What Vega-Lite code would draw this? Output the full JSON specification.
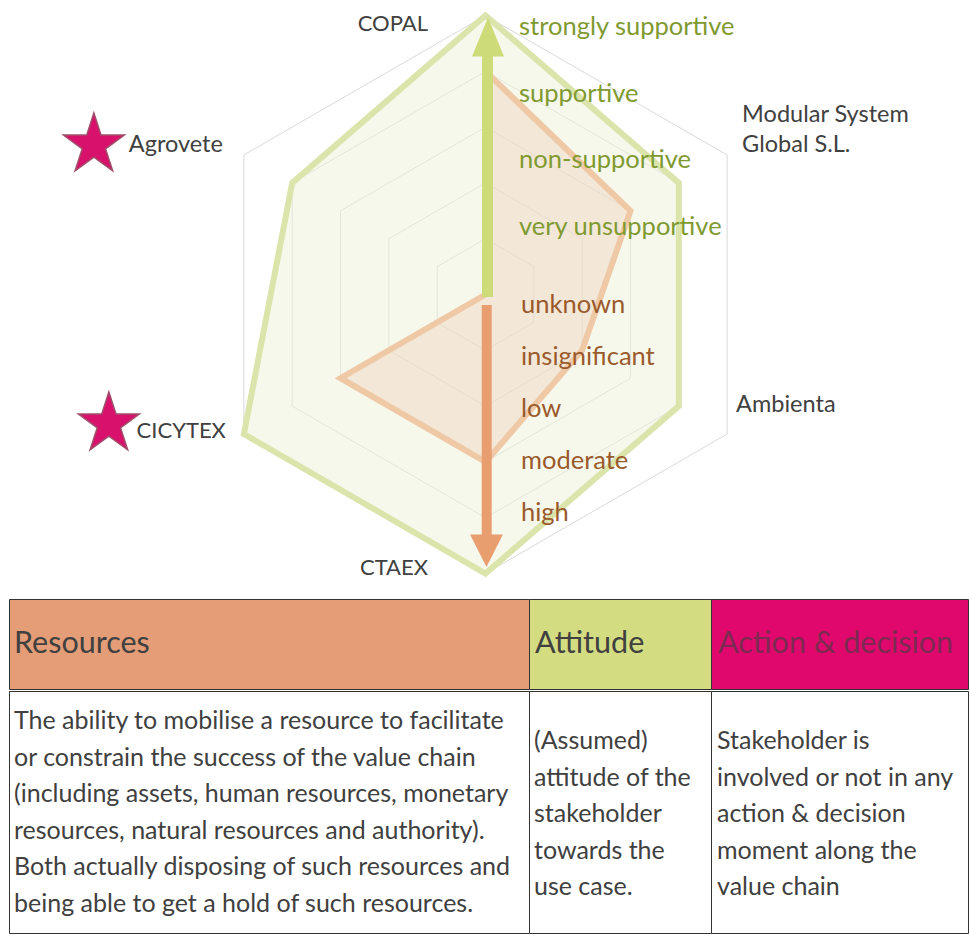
{
  "$schema": "https://vega.github.io/schema/vega-lite/v6.json",
  "padding": {"left": 8, "top": 0, "right": 0, "bottom": 0},
  "spacing": 0,
  "config": {"view": {"stroke": null}, "font": "Lato"},
  "datasets": {
    "stakeholders": [
      {"name": "COPAL", "k": 0, "attitude": 5, "resources": 4, "action": false},
      {"name": "Modular System\nGlobal S.L.", "k": 1, "attitude": 4, "resources": 3, "action": false},
      {"name": "Ambienta", "k": 2, "attitude": 4, "resources": 2, "action": false},
      {"name": "CTAEX", "k": 3, "attitude": 5, "resources": 3, "action": false},
      {"name": "CICYTEX", "k": 4, "attitude": 5, "resources": 3, "action": true},
      {"name": "Agrovete", "k": 5, "attitude": 4, "resources": 0, "action": true}
    ],
    "grid": [
      {"k": 0, "rings": [1, 2, 3, 4, 5]},
      {"k": 1, "rings": [1, 2, 3, 4, 5]},
      {"k": 2, "rings": [1, 2, 3, 4, 5]},
      {"k": 3, "rings": [1, 2, 3, 4, 5]},
      {"k": 4, "rings": [1, 2, 3, 4, 5]},
      {"k": 5, "rings": [1, 2, 3, 4, 5]}
    ],
    "arrows": [
      {"scale": "Attitude", "from": 0, "to": 5},
      {"scale": "Resources", "from": 0, "to": -5}
    ],
    "attitudeScale": [
      {"label": "very unsupportive", "level": 1},
      {"label": "non-supportive", "level": 2},
      {"label": "supportive", "level": 3},
      {"label": "strongly supportive", "level": 4}
    ],
    "resourceScale": [
      {"label": "unknown", "level": 1},
      {"label": "insignificant", "level": 2},
      {"label": "low", "level": 3},
      {"label": "moderate", "level": 4},
      {"label": "high", "level": 5}
    ],
    "table": [
      {"col": "Resources", "head": "Resources", "body": "The ability to mobilise a resource to facilitate\nor constrain the success of the value chain\n(including assets, human resources, monetary\nresources, natural resources and authority).\nBoth actually disposing of such resources and\nbeing able to get a hold of such resources."},
      {"col": "Attitude", "head": "Attitude", "body": "(Assumed)\nattitude of the\nstakeholder\ntowards the\nuse case."},
      {"col": "Action", "head": "Action & decision", "body": "Stakeholder is\ninvolved or not in any\naction & decision\nmoment along the\nvalue chain"}
    ]
  },
  "vconcat": [
    {
      "width": 961,
      "height": 598,
      "resolve": {"scale": {"y": "independent"}},
      "layer": [
        {
          "layer": [
            {
              "data": {"name": "grid"},
              "transform": [
                {"flatten": ["rings"], "as": ["ring"]},
                {"calculate": "datum.ring*sin(datum.k*PI/3)", "as": "px"},
                {"calculate": "datum.ring*cos(datum.k*PI/3)", "as": "py"}
              ],
              "mark": {"type": "line", "interpolate": "linear-closed", "stroke": "#d9d9d9", "strokeWidth": 1},
              "encoding": {
                "x": {"field": "px", "type": "quantitative", "axis": null, "scale": {"domain": [-8.5394, 8.6828], "nice": false, "zero": false}},
                "y": {"field": "py", "type": "quantitative", "axis": null, "scale": {"domain": [-5.439, 5.278], "nice": false, "zero": false}},
                "detail": {"field": "ring", "type": "nominal"},
                "order": {"field": "k", "type": "quantitative"}
              }
            },
            {
              "data": {"name": "stakeholders"},
              "transform": [
                {"calculate": "datum.attitude*sin(datum.k*PI/3)", "as": "px"},
                {"calculate": "datum.attitude*cos(datum.k*PI/3)", "as": "py"}
              ],
              "mark": {"type": "line", "interpolate": "linear-closed", "stroke": "#dbe4ab", "strokeWidth": 6, "fill": "#eff1d9", "fillOpacity": 0.5},
              "encoding": {
                "x": {"field": "px", "type": "quantitative", "axis": null, "scale": {"domain": [-8.5394, 8.6828], "nice": false, "zero": false}},
                "y": {"field": "py", "type": "quantitative", "axis": null, "scale": {"domain": [-5.439, 5.278], "nice": false, "zero": false}},
                "order": {"field": "k", "type": "quantitative"}
              }
            },
            {
              "data": {"name": "stakeholders"},
              "transform": [
                {"calculate": "datum.resources*sin(datum.k*PI/3)", "as": "px"},
                {"calculate": "datum.resources*cos(datum.k*PI/3)", "as": "py"}
              ],
              "mark": {"type": "line", "interpolate": "linear-closed", "stroke": "#efc8a6", "strokeWidth": 6, "fill": "#ecccb3", "fillOpacity": 0.35},
              "encoding": {
                "x": {"field": "px", "type": "quantitative", "axis": null, "scale": {"domain": [-8.5394, 8.6828], "nice": false, "zero": false}},
                "y": {"field": "py", "type": "quantitative", "axis": null, "scale": {"domain": [-5.439, 5.278], "nice": false, "zero": false}},
                "order": {"field": "k", "type": "quantitative"}
              }
            },
            {
              "data": {"name": "arrows"},
              "transform": [{"filter": "datum.scale == 'Attitude'"}],
              "mark": {"type": "rule", "color": "#cddb78", "strokeWidth": 11, "xOffset": 2, "yOffset": 2.5, "y2Offset": 38},
              "encoding": {
                "x": {"datum": 0, "type": "quantitative", "axis": null, "scale": {"domain": [-8.5394, 8.6828], "nice": false, "zero": false}},
                "y": {"field": "from", "type": "quantitative", "axis": null, "scale": {"domain": [-5.439, 5.278], "nice": false, "zero": false}},
                "y2": {"field": "to"}
              }
            },
            {
              "data": {"name": "arrows"},
              "transform": [{"filter": "datum.scale == 'Attitude'"}],
              "mark": {"type": "point", "shape": "M0,0.1L0.8,2.05L-0.8,2.05Z", "size": 1600, "filled": true, "opacity": 1, "color": "#cddb78", "xOffset": 2.5},
              "encoding": {
                "x": {"datum": 0, "type": "quantitative", "axis": null, "scale": {"domain": [-8.5394, 8.6828], "nice": false, "zero": false}},
                "y": {"field": "to", "type": "quantitative", "axis": null, "scale": {"domain": [-5.439, 5.278], "nice": false, "zero": false}}
              }
            },
            {
              "data": {"name": "arrows"},
              "transform": [{"filter": "datum.scale == 'Resources'"}],
              "mark": {"type": "rule", "color": "#e89e6f", "strokeWidth": 10, "xOffset": 1.2, "yOffset": 10.5, "y2Offset": -36},
              "encoding": {
                "x": {"datum": 0, "type": "quantitative", "axis": null, "scale": {"domain": [-8.5394, 8.6828], "nice": false, "zero": false}},
                "y": {"field": "from", "type": "quantitative", "axis": null, "scale": {"domain": [-5.439, 5.278], "nice": false, "zero": false}},
                "y2": {"field": "to"}
              }
            },
            {
              "data": {"name": "arrows"},
              "transform": [{"filter": "datum.scale == 'Resources'"}],
              "mark": {"type": "point", "shape": "M0,-0.33L0.82,-1.95L-0.82,-1.95Z", "size": 1600, "filled": true, "opacity": 1, "color": "#e89e6f", "xOffset": 1},
              "encoding": {
                "x": {"datum": 0, "type": "quantitative", "axis": null, "scale": {"domain": [-8.5394, 8.6828], "nice": false, "zero": false}},
                "y": {"field": "to", "type": "quantitative", "axis": null, "scale": {"domain": [-5.439, 5.278], "nice": false, "zero": false}}
              }
            },
            {
              "data": {"name": "stakeholders"},
              "transform": [
                {"filter": "datum.k == 0"},
                {"calculate": "5*sin(datum.k*PI/3)", "as": "px"},
                {"calculate": "5*cos(datum.k*PI/3)", "as": "py"}
              ],
              "mark": {"type": "text", "align": "right", "baseline": "middle", "dx": -57.5, "dy": 8.5, "fontSize": 22, "color": "#404040", "font": "Lato"},
              "encoding": {
                "x": {"field": "px", "type": "quantitative", "axis": null, "scale": {"domain": [-8.5394, 8.6828], "nice": false, "zero": false}},
                "y": {"field": "py", "type": "quantitative", "axis": null, "scale": {"domain": [-5.439, 5.278], "nice": false, "zero": false}},
                "text": {"field": "name"}
              }
            },
            {
              "data": {"name": "stakeholders"},
              "transform": [
                {"filter": "datum.k == 1"},
                {"calculate": "5*sin(datum.k*PI/3)", "as": "px"},
                {"calculate": "5*cos(datum.k*PI/3)", "as": "py"}
              ],
              "mark": {"type": "text", "align": "left", "baseline": "middle", "dx": 15, "dy": -40, "fontSize": 23.5, "color": "#404040", "font": "Lato", "lineBreak": "\n", "lineHeight": 30},
              "encoding": {
                "x": {"field": "px", "type": "quantitative", "axis": null, "scale": {"domain": [-8.5394, 8.6828], "nice": false, "zero": false}},
                "y": {"field": "py", "type": "quantitative", "axis": null, "scale": {"domain": [-5.439, 5.278], "nice": false, "zero": false}},
                "text": {"field": "name"}
              }
            },
            {
              "data": {"name": "stakeholders"},
              "transform": [
                {"filter": "datum.k == 2"},
                {"calculate": "5*sin(datum.k*PI/3)", "as": "px"},
                {"calculate": "5*cos(datum.k*PI/3)", "as": "py"}
              ],
              "mark": {"type": "text", "align": "left", "baseline": "middle", "dx": 9, "dy": -29, "fontSize": 23.5, "color": "#404040", "font": "Lato"},
              "encoding": {
                "x": {"field": "px", "type": "quantitative", "axis": null, "scale": {"domain": [-8.5394, 8.6828], "nice": false, "zero": false}},
                "y": {"field": "py", "type": "quantitative", "axis": null, "scale": {"domain": [-5.439, 5.278], "nice": false, "zero": false}},
                "text": {"field": "name"}
              }
            },
            {
              "data": {"name": "stakeholders"},
              "transform": [
                {"filter": "datum.k == 3"},
                {"calculate": "5*sin(datum.k*PI/3)", "as": "px"},
                {"calculate": "5*cos(datum.k*PI/3)", "as": "py"}
              ],
              "mark": {"type": "text", "align": "right", "baseline": "middle", "dx": -57.5, "dy": -5.5, "fontSize": 22, "color": "#404040", "font": "Lato"},
              "encoding": {
                "x": {"field": "px", "type": "quantitative", "axis": null, "scale": {"domain": [-8.5394, 8.6828], "nice": false, "zero": false}},
                "y": {"field": "py", "type": "quantitative", "axis": null, "scale": {"domain": [-5.439, 5.278], "nice": false, "zero": false}},
                "text": {"field": "name"}
              }
            },
            {
              "data": {"name": "stakeholders"},
              "transform": [
                {"filter": "datum.k == 4"},
                {"calculate": "5*sin(datum.k*PI/3)", "as": "px"},
                {"calculate": "5*cos(datum.k*PI/3)", "as": "py"}
              ],
              "mark": {"type": "text", "align": "right", "baseline": "middle", "dx": -18, "dy": -3, "fontSize": 22, "color": "#404040", "font": "Lato"},
              "encoding": {
                "x": {"field": "px", "type": "quantitative", "axis": null, "scale": {"domain": [-8.5394, 8.6828], "nice": false, "zero": false}},
                "y": {"field": "py", "type": "quantitative", "axis": null, "scale": {"domain": [-5.439, 5.278], "nice": false, "zero": false}},
                "text": {"field": "name"}
              }
            },
            {
              "data": {"name": "stakeholders"},
              "transform": [
                {"filter": "datum.k == 5"},
                {"calculate": "5*sin(datum.k*PI/3)", "as": "px"},
                {"calculate": "5*cos(datum.k*PI/3)", "as": "py"}
              ],
              "mark": {"type": "text", "align": "right", "baseline": "middle", "dx": -21, "dy": -10, "fontSize": 23.5, "color": "#404040", "font": "Lato"},
              "encoding": {
                "x": {"field": "px", "type": "quantitative", "axis": null, "scale": {"domain": [-8.5394, 8.6828], "nice": false, "zero": false}},
                "y": {"field": "py", "type": "quantitative", "axis": null, "scale": {"domain": [-5.439, 5.278], "nice": false, "zero": false}},
                "text": {"field": "name"}
              }
            },
            {
              "data": {"name": "stakeholders"},
              "transform": [
                {"filter": "datum.action && datum.k == 5"},
                {"calculate": "5*sin(datum.k*PI/3)", "as": "px"},
                {"calculate": "5*cos(datum.k*PI/3)", "as": "py"}
              ],
              "mark": {"type": "point", "shape": "M0,-1L0.2245,-0.309L0.951,-0.309L0.363,0.118L0.588,0.809L0,0.382L-0.588,0.809L-0.363,0.118L-0.951,-0.309L-0.2245,-0.309Z", "size": 4096, "filled": true, "opacity": 1, "fill": "#d8116c", "stroke": "#a14e6a", "strokeWidth": 1.5, "xOffset": -150, "yOffset": -10},
              "encoding": {
                "x": {"field": "px", "type": "quantitative", "axis": null, "scale": {"domain": [-8.5394, 8.6828], "nice": false, "zero": false}},
                "y": {"field": "py", "type": "quantitative", "axis": null, "scale": {"domain": [-5.439, 5.278], "nice": false, "zero": false}}
              }
            },
            {
              "data": {"name": "stakeholders"},
              "transform": [
                {"filter": "datum.action && datum.k == 4"},
                {"calculate": "5*sin(datum.k*PI/3)", "as": "px"},
                {"calculate": "5*cos(datum.k*PI/3)", "as": "py"}
              ],
              "mark": {"type": "point", "shape": "M0,-1L0.2245,-0.309L0.951,-0.309L0.363,0.118L0.588,0.809L0,0.382L-0.588,0.809L-0.363,0.118L-0.951,-0.309L-0.2245,-0.309Z", "size": 4096, "filled": true, "opacity": 1, "fill": "#d8116c", "stroke": "#a14e6a", "strokeWidth": 1.5, "xOffset": -135, "yOffset": -10},
              "encoding": {
                "x": {"field": "px", "type": "quantitative", "axis": null, "scale": {"domain": [-8.5394, 8.6828], "nice": false, "zero": false}},
                "y": {"field": "py", "type": "quantitative", "axis": null, "scale": {"domain": [-5.439, 5.278], "nice": false, "zero": false}}
              }
            }
          ]
        },
        {
          "data": {"name": "attitudeScale"},
          "mark": {"type": "text", "align": "left", "baseline": "alphabetic", "dx": 33.5, "fontSize": 25.5, "color": "#7f9a31", "font": "Lato"},
          "encoding": {
            "x": {"datum": 0, "type": "quantitative", "axis": null, "scale": {"domain": [-8.5394, 8.6828], "nice": false, "zero": false}},
            "y": {"field": "level", "type": "quantitative", "axis": null, "scale": {"domain": [1, 4], "range": [235, 35], "nice": false, "zero": false}},
            "text": {"field": "label"}
          }
        },
        {
          "data": {"name": "resourceScale"},
          "mark": {"type": "text", "align": "left", "baseline": "alphabetic", "dx": 35.5, "fontSize": 25.5, "color": "#9a5a2b", "font": "Lato"},
          "encoding": {
            "x": {"datum": 0, "type": "quantitative", "axis": null, "scale": {"domain": [-8.5394, 8.6828], "nice": false, "zero": false}},
            "y": {"field": "level", "type": "quantitative", "axis": null, "scale": {"domain": [1, 5], "range": [313, 521], "nice": false, "zero": false}},
            "text": {"field": "label"}
          }
        }
      ]
    },
    {
      "hconcat": [
        {
          "width": 520, "height": 90,
          "view": {"fill": "#e49d77", "stroke": "#333333", "strokeWidth": 1},
          "data": {"name": "table"},
          "transform": [{"filter": "datum.col == 'Resources'"}],
          "mark": {"type": "text", "align": "left", "baseline": "middle", "fontSize": 30.5, "color": "#404040", "font": "Lato"},
          "encoding": {"x": {"value": 5}, "text": {"field": "head"}}
        },
        {
          "width": 182, "height": 90,
          "view": {"fill": "#d4dc82", "stroke": "#333333", "strokeWidth": 1},
          "data": {"name": "table"},
          "transform": [{"filter": "datum.col == 'Attitude'"}],
          "mark": {"type": "text", "align": "left", "baseline": "middle", "fontSize": 30.5, "color": "#404040", "font": "Lato"},
          "encoding": {"x": {"value": 6}, "text": {"field": "head"}}
        },
        {
          "width": 257, "height": 90,
          "view": {"fill": "#e0086c", "stroke": "#333333", "strokeWidth": 1},
          "data": {"name": "table"},
          "transform": [{"filter": "datum.col == 'Action'"}],
          "mark": {"type": "text", "align": "left", "baseline": "middle", "fontSize": 30.5, "color": "#7d2a52", "font": "Lato"},
          "encoding": {"x": {"value": 7}, "text": {"field": "head"}}
        }
      ],
      "spacing": 0,
      "bounds": "flush"
    },
    {
      "hconcat": [
        {
          "width": 520, "height": 242,
          "view": {"fill": "#ffffff", "stroke": "#333333", "strokeWidth": 1},
          "data": {"name": "table"},
          "transform": [{"filter": "datum.col == 'Resources'"}],
          "mark": {"type": "text", "align": "left", "baseline": "middle", "fontSize": 25, "lineBreak": "\n", "lineHeight": 36.6, "color": "#404040", "font": "Lato"},
          "encoding": {"x": {"value": 5}, "y": {"value": 30}, "text": {"field": "body"}}
        },
        {
          "width": 182, "height": 242,
          "view": {"fill": "#ffffff", "stroke": "#333333", "strokeWidth": 1},
          "data": {"name": "table"},
          "transform": [{"filter": "datum.col == 'Attitude'"}],
          "mark": {"type": "text", "align": "left", "baseline": "middle", "fontSize": 25, "lineBreak": "\n", "lineHeight": 36.6, "color": "#404040", "font": "Lato"},
          "encoding": {"x": {"value": 5}, "y": {"value": 50}, "text": {"field": "body"}}
        },
        {
          "width": 257, "height": 242,
          "view": {"fill": "#ffffff", "stroke": "#333333", "strokeWidth": 1},
          "data": {"name": "table"},
          "transform": [{"filter": "datum.col == 'Action'"}],
          "mark": {"type": "text", "align": "left", "baseline": "middle", "fontSize": 25, "lineBreak": "\n", "lineHeight": 36.6, "color": "#404040", "font": "Lato"},
          "encoding": {"x": {"value": 6}, "y": {"value": 50}, "text": {"field": "body"}}
        }
      ],
      "spacing": 0,
      "bounds": "flush"
    }
  ]
}
